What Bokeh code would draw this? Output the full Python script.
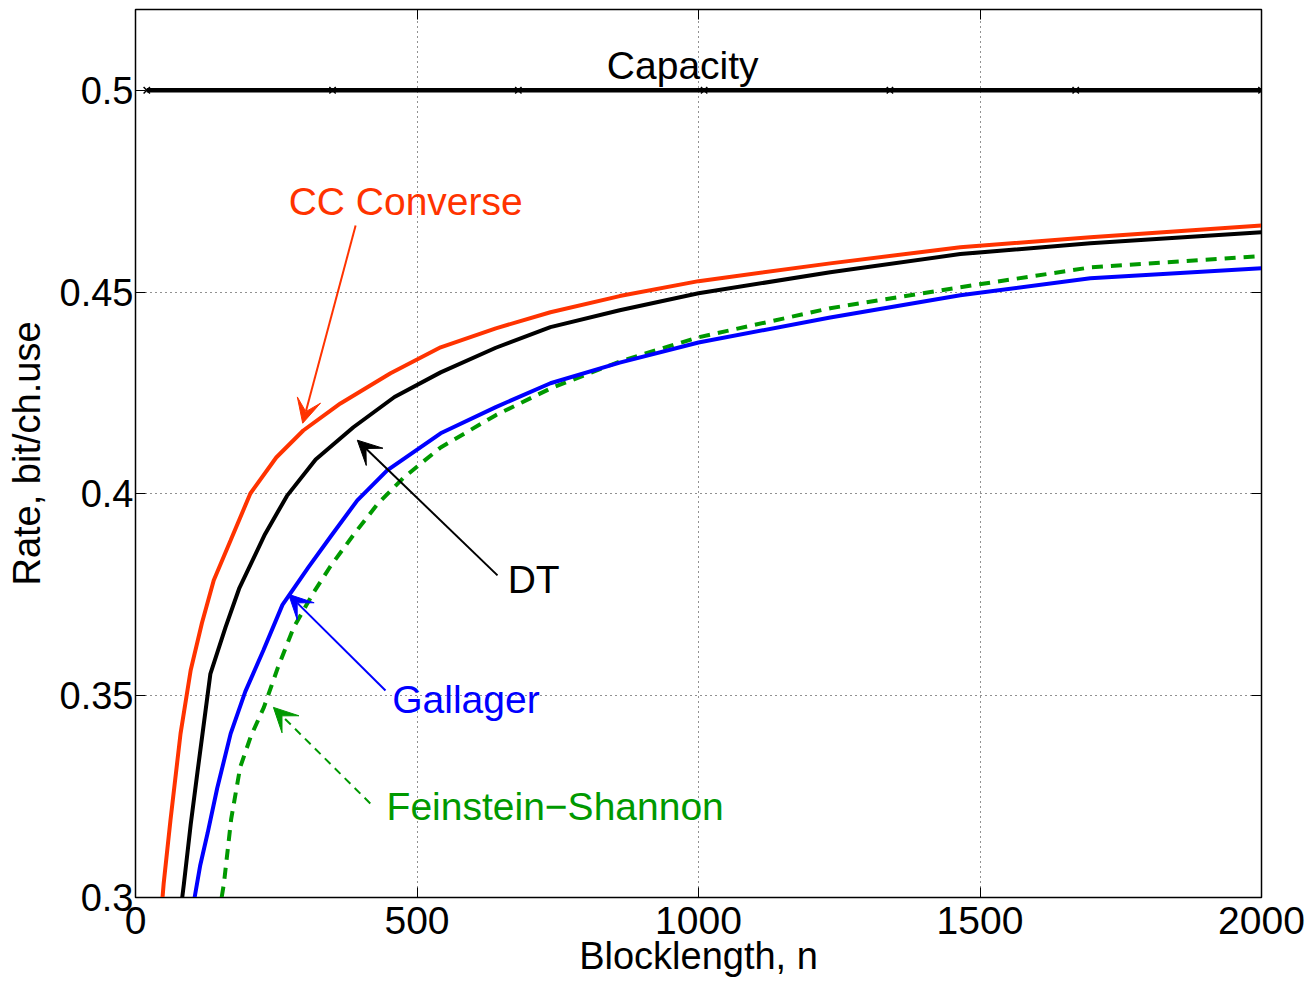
from bokeh.plotting import figure
from bokeh.models import (LinearAxis, FixedTicker, Arrow, VeeHead, ColumnDataSource)
from bokeh.core.properties import value
from bokeh.embed import file_html
from bokeh.resources import INLINE

# ---------------- data ----------------
cc_n = [48, 50, 62, 80, 98, 118, 139, 169, 204, 250, 298, 364, 453, 542, 640, 737, 860, 1000, 1234, 1465, 1696, 2000]
cc_r = [0.300, 0.3034, 0.319, 0.3406, 0.3563, 0.368, 0.3786, 0.3885, 0.4001, 0.409, 0.4157, 0.4224, 0.4299, 0.4363,
        0.441, 0.445, 0.449, 0.4527, 0.4571, 0.4611, 0.4636, 0.4665]

dt_n = [83, 86, 98, 110, 133, 160, 184, 230, 269, 320, 387, 460, 542, 640, 737, 860, 1000, 1234, 1465, 1696, 2000]
dt_r = [0.300, 0.3034, 0.318, 0.331, 0.3554, 0.367, 0.3765, 0.390, 0.3995, 0.4085, 0.4165, 0.424, 0.4301, 0.4362,
        0.4413, 0.4455, 0.4497, 0.4549, 0.4594, 0.4621, 0.4648]

gal_n = [105, 115, 128, 145, 169, 195, 227, 261, 307, 347, 394, 447, 542, 640, 737, 860, 1000, 1234, 1465, 1696, 2000]
gal_r = [0.300, 0.308, 0.3159, 0.327, 0.3406, 0.351, 0.3612, 0.3725, 0.3818, 0.3895, 0.3984, 0.4058, 0.415, 0.4215,
         0.4274, 0.4325, 0.4375, 0.4437, 0.4492, 0.4534, 0.4559]

fs_n = [153, 157, 170, 186, 205, 228, 253, 281, 316, 346, 388, 430, 476, 542, 640, 737, 860, 1000, 1234, 1465, 1696, 2000]
fs_r = [0.300, 0.3034, 0.3195, 0.3323, 0.340, 0.3471, 0.357, 0.3669, 0.3755, 0.382, 0.3900, 0.3975, 0.404, 0.4115,
        0.4195, 0.4261, 0.4328, 0.4388, 0.446, 0.4512, 0.4561, 0.4589]

cap_n = [20, 350, 680, 1010, 1340, 1670, 2000]
cap_r = [0.5, 0.5, 0.5, 0.5, 0.5, 0.5, 0.5]

x_ticks = [0, 500, 1000, 1500, 2000]
x_tick_labels = ["0", "500", "1000", "1500", "2000"]
y_ticks = [0.3, 0.35, 0.4, 0.45, 0.5]
y_tick_labels = ["0.3", "0.35", "0.4", "0.45", "0.5"]

label_text = ["Capacity", "CC Converse", "DT", "Gallager", "Feinstein\u2212Shannon"]
label_x = [972, 272, 661, 456, 446]
label_y = [0.5061, 0.4724, 0.3787, 0.3490, 0.3225]
label_align = ["center", "left", "left", "left", "left"]
label_color = ["#000000", "#FF3300", "#000000", "#0000FF", "#009900"]

arrow_x_start = [391, 643, 444, 417]
arrow_y_start = [0.4665, 0.3798, 0.3513, 0.3233]
arrow_x_end = [297, 394, 272, 245]
arrow_y_end = [0.4175, 0.4133, 0.3751, 0.3471]
arrow_color = ["#FF3300", "#000000", "#0000FF", "#009900"]
arrow_dash = ["solid", "solid", "solid", "8 6"]

FONT = "Liberation Sans"

# ---------------- figure ----------------
p = figure(frame_width=1126, frame_height=888, x_range=(0, 2000), y_range=(0.3, 0.52),
           output_backend="svg", toolbar_location=None,
           min_border_left=135, min_border_top=9, min_border_right=50, min_border_bottom=10,
           x_axis_label="Blocklength, n", y_axis_label="Rate, bit/ch.use")
p.background_fill_color = "white"
p.border_fill_color = "white"
p.outline_line_color = "black"
p.outline_line_width = 1.5

xt = FixedTicker(ticks=x_ticks)
yt = FixedTicker(ticks=y_ticks)

for ax in p.xaxis:
    ax.ticker = xt
    ax.major_label_overrides = dict(zip(x_ticks, x_tick_labels))
    ax.major_label_text_font = FONT
    ax.major_label_text_font_size = "39px"
    ax.major_label_standoff = 9
    ax.axis_label_text_font = FONT
    ax.axis_label_text_font_size = "38px"
    ax.axis_label_text_font_style = "normal"
    ax.axis_label_standoff = -2
for ax in p.yaxis:
    ax.ticker = yt
    ax.major_label_overrides = dict(zip(y_ticks, y_tick_labels))
    ax.major_label_text_font = FONT
    ax.major_label_text_font_size = "38px"
    ax.major_label_standoff = 2
    ax.axis_label_text_font = FONT
    ax.axis_label_text_font_size = "38px"
    ax.axis_label_text_font_style = "normal"
    ax.axis_label_standoff = 9

for ax in list(p.xaxis) + list(p.yaxis):
    ax.major_tick_in = 10
    ax.major_tick_out = 0
    ax.minor_tick_line_color = None
    ax.axis_line_color = "black"
    ax.major_tick_line_color = "black"
    ax.major_label_text_color = "black"
    ax.axis_label_text_color = "black"

top_ax = LinearAxis(ticker=xt, major_label_overrides={t: "" for t in x_ticks},
                    major_label_text_font_size="1px", major_label_standoff=0,
                    major_tick_in=10, major_tick_out=0, minor_tick_line_color=None)
right_ax = LinearAxis(ticker=yt, major_label_overrides={t: "" for t in y_ticks},
                      major_label_text_font_size="1px", major_label_standoff=0,
                      major_tick_in=10, major_tick_out=0, minor_tick_line_color=None)
p.add_layout(top_ax, "above")
p.add_layout(right_ax, "right")

p.xgrid.ticker = xt
p.ygrid.ticker = yt
for g in (p.xgrid, p.ygrid):
    g.grid_line_color = "#222222"
    g.grid_line_dash = "1 4"
    g.grid_line_width = 1

# curves
LW = 4
p.line(cap_n, cap_r, line_color="black", line_width=4.5)
p.scatter(cap_n, cap_r, marker="x", size=9, line_color="black", line_width=1.5)
p.line(fs_n, fs_r, line_color="#009900", line_width=LW, line_dash="11 8")
p.line(gal_n, gal_r, line_color="#0000FF", line_width=LW)
p.line(dt_n, dt_r, line_color="black", line_width=LW)
p.line(cc_n, cc_r, line_color="#FF3300", line_width=LW)

# arrows
for xs, ys, xe, ye, c, d in zip(arrow_x_start, arrow_y_start, arrow_x_end, arrow_y_end, arrow_color, arrow_dash):
    p.add_layout(Arrow(end=VeeHead(size=24, fill_color=c, line_color=c, line_width=1),
                       x_start=xs, y_start=ys, x_end=xe, y_end=ye,
                       line_color=c, line_width=2, line_dash=d))

# labels
src = ColumnDataSource(dict(x=label_x, y=label_y, text=label_text, align=label_align, color=label_color))
p.text(x="x", y="y", text="text", text_align="align", text_color="color", source=src,
       text_font=value(FONT), text_font_size="39px", text_baseline="alphabetic")

open("out.html", "w").write(file_html(p, INLINE))
